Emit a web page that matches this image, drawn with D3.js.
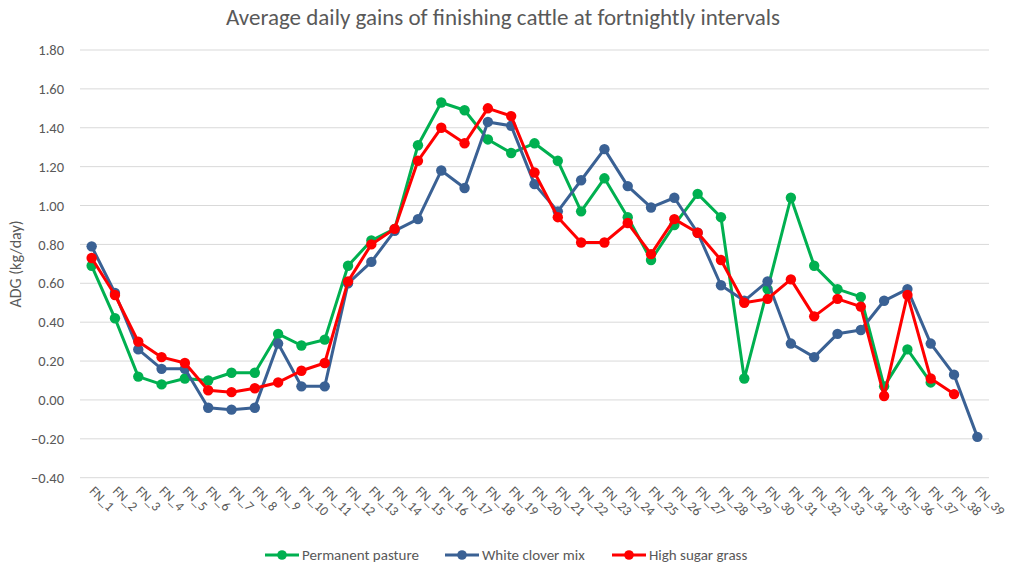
<!DOCTYPE html>
<html>
<head>
<meta charset="utf-8">
<script src="https://cdn.jsdelivr.net/npm/d3@7"></script>
<style>
  body { margin: 0; background: #fff; }
  text { font-family: Carlito, "Liberation Sans", Arial, sans-serif; }
</style>
</head>
<body>
<div id="chart"></div>
<script>
// Fortnight labels
const periods = d3.range(1, 40).map(i => `FN_${i}`);

const permanentPasture = [0.69, 0.42, 0.12, 0.08, 0.11, 0.10, 0.14, 0.14, 0.34, 0.28,
  0.31, 0.69, 0.82, 0.88, 1.31, 1.53, 1.49, 1.34, 1.27, 1.32,
  1.23, 0.97, 1.14, 0.94, 0.72, 0.90, 1.06, 0.94, 0.11, 0.57,
  1.04, 0.69, 0.57, 0.53, 0.07, 0.26, 0.09, null, null];

const whiteCloverMix = [0.79, 0.55, 0.26, 0.16, 0.16, -0.04, -0.05, -0.04, 0.29, 0.07,
  0.07, 0.60, 0.71, 0.87, 0.93, 1.18, 1.09, 1.43, 1.41, 1.11,
  0.97, 1.13, 1.29, 1.10, 0.99, 1.04, 0.86, 0.59, 0.51, 0.61,
  0.29, 0.22, 0.34, 0.36, 0.51, 0.57, 0.29, 0.13, -0.19];

const highSugarGrass = [0.73, 0.54, 0.30, 0.22, 0.19, 0.05, 0.04, 0.06, 0.09, 0.15,
  0.19, 0.61, 0.80, 0.88, 1.23, 1.40, 1.32, 1.50, 1.46, 1.17,
  0.94, 0.81, 0.81, 0.91, 0.75, 0.93, 0.86, 0.72, 0.50, 0.52,
  0.62, 0.43, 0.52, 0.48, 0.02, 0.54, 0.11, 0.03, null];

const yTicks = [-0.4, -0.2, 0, 0.2, 0.4, 0.6, 0.8, 1.0, 1.2, 1.4, 1.6, 1.8];

const series = [
  { name: 'Permanent pasture', values: permanentPasture, color: '#00b050' },
  { name: 'White clover mix', values: whiteCloverMix, color: '#3a6194' },
  { name: 'High sugar grass', values: highSugarGrass, color: '#ff0000' }
];

const width = 1011, height = 565;
const margin = { top: 50, right: 22, bottom: 87, left: 80 };
const textColor = '#595959';
const fontFamily = 'Carlito, "Liberation Sans", Arial, sans-serif';

const svg = d3.select('#chart')
  .append('svg')
  .attr('width', width)
  .attr('height', height);

const x = d3.scaleBand()
  .domain(periods)
  .range([margin.left, width - margin.right]);

const y = d3.scaleLinear()
  .domain([-0.4, 1.8])
  .range([height - margin.bottom - 0.3, margin.top]);

// Title
svg.append('text')
  .attr('x', 503)
  .attr('y', 25)
  .attr('text-anchor', 'middle')
  .style('font-size', '23px')
  .style('fill', textColor)
  .text('Average daily gains of finishing cattle at fortnightly intervals');

// Gridlines
svg.append('g')
  .selectAll('line')
  .data(yTicks)
  .join('line')
  .attr('x1', margin.left)
  .attr('x2', width - margin.right)
  .attr('y1', d => y(d))
  .attr('y2', d => y(d))
  .attr('stroke', '#d9d9d9')
  .attr('stroke-width', 1);

// Y axis
const yAxis = svg.append('g')
  .attr('transform', `translate(${margin.left - 13},0)`)
  .call(d3.axisLeft(y).tickValues(yTicks).tickSize(0).tickFormat(d3.format('.2f')));
yAxis.select('.domain').remove();
yAxis.selectAll('text')
  .style('font-size', '14.5px')
  .style('fill', textColor)
  .style('font-family', fontFamily);

svg.append('text')
  .attr('transform', 'translate(21,264) rotate(-90)')
  .attr('text-anchor', 'middle')
  .style('font-size', '16px')
  .style('fill', textColor)
  .text('ADG (kg/day)');

// X axis labels, rotated
const xAxis = svg.append('g')
  .attr('transform', `translate(0,${y(-0.4)})`)
  .call(d3.axisBottom(x).tickSize(0));
xAxis.select('.domain').remove();
xAxis.selectAll('text')
  .attr('text-anchor', 'start')
  .attr('dy', null)
  .attr('transform', 'translate(-3,14) rotate(45)')
  .attr('y', 0)
  .attr('x', 0)
  .style('font-size', '13.5px')
  .style('fill', textColor)
  .style('font-family', fontFamily);

// Lines and markers
const cx = i => x(periods[i]) + x.bandwidth() / 2;
const line = d3.line()
  .defined(d => d != null)
  .x((d, i) => cx(i))
  .y(d => y(d));

series.forEach(s => {
  const g = svg.append('g');
  g.append('path')
    .datum(s.values)
    .attr('fill', 'none')
    .attr('stroke', s.color)
    .attr('stroke-width', 3)
    .attr('stroke-linejoin', 'round')
    .attr('d', line);
  g.selectAll('circle')
    .data(s.values.map((v, i) => ({ v, i })).filter(d => d.v != null))
    .join('circle')
    .attr('cx', d => cx(d.i))
    .attr('cy', d => y(d.v))
    .attr('r', 5.2)
    .attr('fill', s.color);
});

// Legend
const legendX = [265, 445, 612];
const legend = svg.append('g');
series.forEach((s, i) => {
  const lg = legend.append('g').attr('transform', `translate(${legendX[i]},555)`);
  lg.append('line')
    .attr('x1', 0).attr('x2', 34)
    .attr('stroke', s.color).attr('stroke-width', 3);
  lg.append('circle').attr('cx', 17).attr('r', 4.8).attr('fill', s.color);
  lg.append('text')
    .attr('x', 37)
    .attr('y', 5)
    .style('font-size', '15px')
    .style('fill', textColor)
    .text(s.name);
});
</script>
</body>
</html>
